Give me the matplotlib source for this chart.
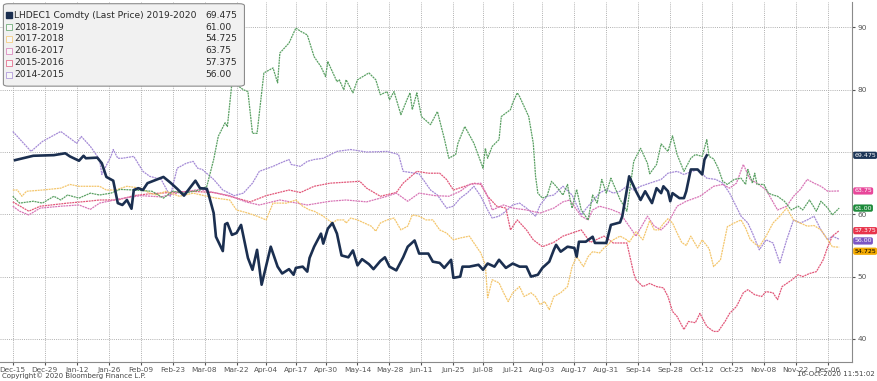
import numpy as np
import pandas as pd
import matplotlib
matplotlib.use("Agg")
import matplotlib.pyplot as plt
from matplotlib.patches import FancyBboxPatch

# days counted from Dec-15 of the first year of each season
main_days = [1, 9, 18, 23, 25, 29, 31, 32, 37, 39, 41, 44, 46, 48, 50, 52, 53, 55, 57, 59,
             66, 69, 72, 75, 80, 82, 85, 86, 88, 89, 92, 93, 94, 96, 98, 100, 103, 105, 107, 109,
             113, 116, 118, 121, 123, 124, 127, 129, 130, 132, 135, 136, 138, 140, 142, 144, 147, 149, 151, 153,
             156, 158, 161, 163, 165, 168, 171, 173, 176, 178, 182, 184, 187, 189, 192, 193, 196, 197, 200, 204,
             206, 208, 211, 213, 216, 219, 222, 225, 227, 230, 232, 235, 237, 238, 240, 243, 246, 247, 248, 251,
             254, 255, 258, 260, 262, 266, 267, 270, 273, 275, 277, 280, 282, 284, 285, 287, 288, 289, 292, 294,
             295, 297, 300, 302, 303, 304]
main_vals = [68.7, 69.4, 69.5, 69.8, 69.3, 68.6, 69.4, 69.0, 69.1, 68.2, 66.0, 65.4, 61.8, 61.5, 62.3, 60.9, 63.9, 64.2, 63.9, 65.0,
             66.0, 65.1, 64.1, 63.0, 65.4, 64.2, 64.1, 62.9, 60.2, 56.4, 54.1, 58.4, 58.6, 56.7, 57.0, 58.3, 53.0, 51.1, 54.3, 48.7,
             54.8, 51.6, 50.5, 51.2, 50.3, 51.4, 51.6, 50.8, 53.0, 54.8, 56.9, 55.3, 57.7, 58.6, 56.9, 53.4, 53.1, 54.2, 51.8, 52.8,
             52.0, 51.2, 52.5, 53.1, 51.6, 51.0, 53.1, 54.8, 55.8, 53.7, 53.7, 52.4, 52.2, 51.4, 52.7, 49.8, 50.0, 51.6, 51.6, 51.9,
             51.1, 52.1, 51.6, 52.7, 51.4, 52.1, 51.6, 51.6, 50.0, 50.3, 51.4, 52.4, 54.3, 55.1, 54.0, 54.8, 54.6, 53.2, 55.6, 55.6,
             56.4, 55.4, 55.4, 55.4, 58.3, 58.7, 59.7, 66.1, 63.7, 62.3, 63.7, 61.8, 64.2, 63.4, 64.5, 63.7, 62.1, 63.4, 62.6, 62.6,
             63.7, 67.2, 67.2, 66.4, 68.8, 69.475]

s1819_days = [0, 3, 9, 13, 18, 21, 24, 29, 34, 38, 43, 47, 53, 61, 66, 70, 75, 82, 85, 88,
              90, 93, 94, 96, 98, 101, 103, 105, 107, 110, 114, 116, 117, 121, 124, 126, 129, 132, 135, 137,
              138, 139, 142, 143, 145, 146, 149, 151, 156, 159, 161, 164, 165, 167, 170, 173, 174, 175, 177, 179,
              183, 186, 189, 191, 194, 195, 198, 202, 206, 207, 208, 210, 213, 214, 218, 219, 221, 222, 224, 226,
              228, 229, 230, 232, 234, 236, 238, 241, 243, 244, 245, 247, 249, 252, 254, 256, 258, 260, 262, 266,
              269, 272, 275, 278, 279, 282, 284, 287, 289, 291, 294, 297, 299, 302, 304, 305, 307, 309, 311, 313,
              316, 319, 321, 322, 324, 325, 326, 329, 331, 333, 335, 338, 341, 344, 346, 349, 352, 354, 357, 359,
              362]
s1819_vals = [62.9, 61.8, 62.1, 61.8, 62.9, 62.3, 63.1, 62.6, 63.4, 63.1, 63.4, 64.0, 63.9, 63.7, 62.6, 63.7, 63.4, 63.9, 64.5, 68.8,
              72.5, 74.7, 74.1, 81.1, 80.8, 80.0, 79.7, 73.0, 73.0, 82.7, 83.5, 81.1, 85.9, 87.5, 89.9, 89.4, 88.8, 85.3, 83.7, 82.1,
              84.5, 83.7, 81.3, 81.6, 80.0, 81.6, 79.5, 81.6, 82.7, 81.6, 79.2, 79.7, 78.4, 79.7, 76.0, 78.7, 79.5, 76.8, 79.5, 75.7,
              74.4, 76.5, 72.2, 69.0, 69.6, 71.4, 74.1, 71.4, 67.4, 70.6, 69.0, 70.9, 72.0, 75.7, 76.8, 77.9, 79.5, 78.9, 77.3, 75.7,
              71.4, 66.1, 63.4, 62.6, 62.9, 65.3, 64.5, 63.1, 64.8, 62.6, 61.0, 64.0, 60.7, 59.1, 63.1, 61.8, 65.6, 63.4, 65.8, 62.4,
              60.5, 68.5, 70.6, 68.2, 66.5, 68.0, 71.3, 70.1, 72.6, 69.6, 66.9, 69.0, 69.6, 69.3, 72.0, 69.3, 68.9, 67.4, 65.3, 64.8,
              65.6, 65.8, 64.8, 67.2, 65.0, 66.6, 64.8, 64.8, 63.4, 63.1, 62.9, 62.1, 60.7, 61.3, 60.7, 62.3, 60.5, 62.1, 61.0, 59.9,
              61.0]

s1718_days = [0, 2, 4, 6, 13, 21, 25, 29, 38, 41, 45, 50, 56, 60, 63, 67, 73, 79, 85, 89,
              95, 98, 103, 107, 111, 114, 120, 124, 127, 130, 132, 136, 140, 142, 145, 146, 148, 151, 154, 157,
              159, 161, 164, 167, 170, 173, 175, 178, 181, 184, 187, 190, 193, 196, 200, 202, 205, 207, 208, 210,
              213, 215, 217, 219, 222, 224, 227, 229, 231, 233, 235, 237, 240, 243, 245, 247, 250, 252, 254, 257,
              259, 263, 266, 269, 270, 273, 276, 279, 281, 283, 285, 287, 289, 291, 293, 295, 297, 300, 302, 305,
              307, 310, 313, 316, 319, 321, 323, 325, 327, 330, 333, 336, 339, 342, 345, 348, 351, 354, 357, 359,
              362]
s1718_vals = [63.9, 63.9, 62.9, 63.7, 63.9, 64.2, 64.8, 64.5, 64.5, 63.9, 63.9, 64.5, 64.2, 63.4, 63.1, 63.7, 62.9, 63.4, 62.9, 62.6,
              62.3, 60.7, 60.2, 59.7, 59.1, 61.8, 61.8, 62.3, 61.3, 60.7, 60.5, 59.7, 58.6, 59.1, 59.1, 58.6, 59.4, 59.1, 58.6, 58.1,
              57.3, 58.6, 59.1, 59.4, 57.5, 58.1, 59.9, 59.7, 59.1, 59.1, 57.5, 57.0, 55.9, 56.2, 56.5, 55.4, 53.8, 51.9, 46.6, 49.5,
              49.0, 47.4, 46.0, 47.4, 48.4, 46.8, 47.4, 46.8, 45.5, 46.0, 44.7, 46.8, 47.4, 48.4, 51.6, 53.2, 51.6, 53.2, 54.0, 53.8,
              54.6, 55.9, 56.5, 55.9, 55.5, 57.2, 55.9, 59.0, 57.5, 57.5, 58.5, 59.3, 58.6, 57.0, 55.5, 55.0, 56.5, 54.6, 55.9, 54.5,
              51.6, 52.7, 58.0, 58.6, 59.1, 57.8, 56.0, 55.3, 54.8, 56.5, 58.6, 59.7, 61.0, 59.1, 58.6, 58.1, 58.2, 57.5, 55.9, 54.8,
              54.725]

s1617_days = [0, 3, 7, 12, 21, 29, 34, 38, 47, 56, 65, 73, 82, 88, 95, 102, 108, 117, 129, 139,
              146, 155, 164, 168, 173, 178, 185, 191, 196, 200, 205, 208, 210, 215, 219, 225, 231, 237, 241, 244,
              249, 252, 254, 257, 262, 266, 270, 273, 278, 281, 284, 287, 291, 295, 301, 307, 311, 314, 317, 320,
              323, 326, 330, 335, 339, 342, 345, 348, 351, 354, 357, 362]
s1617_vals = [61.3, 60.5, 59.9, 61.0, 61.3, 61.5, 60.8, 61.8, 62.5, 63.0, 62.8, 63.5, 64.0, 63.5, 63.0, 62.0, 61.5, 62.3, 61.5, 62.1,
              62.3, 62.0, 62.9, 63.4, 62.1, 63.4, 63.0, 62.9, 63.7, 64.8, 65.0, 62.9, 60.7, 61.5, 61.0, 60.7, 60.2, 61.0, 62.0, 62.3,
              59.7, 59.1, 60.7, 61.3, 60.8, 60.2, 58.1, 56.5, 59.7, 58.1, 57.5, 58.6, 61.3, 62.1, 62.9, 64.5, 64.8, 64.2, 65.0, 68.0,
              65.6, 65.0, 63.9, 60.7, 61.3, 62.9, 64.0, 65.6, 65.0, 64.5, 63.7, 63.75]

s1516_days = [0, 7, 12, 24, 33, 38, 46, 53, 60, 69, 78, 88, 94, 104, 111, 121, 126, 132, 139, 152,
              155, 161, 168, 171, 177, 182, 187, 190, 193, 198, 202, 205, 208, 212, 216, 218, 221, 225, 228, 232,
              237, 241, 245, 249, 253, 259, 263, 269, 272, 273, 276, 279, 282, 285, 287, 289, 291, 294, 296, 299,
              301, 304, 307, 309, 312, 314, 317, 320, 322, 325, 328, 330, 333, 335, 337, 341, 344, 346, 349, 352,
              355, 357, 359, 362]
s1516_vals = [62.0, 60.5, 61.3, 61.8, 62.1, 62.3, 62.3, 63.0, 63.3, 63.5, 63.7, 63.5, 63.0, 62.0, 63.0, 63.9, 63.5, 64.5, 65.0, 65.3,
              64.2, 62.9, 63.5, 65.0, 66.9, 66.6, 66.6, 65.6, 63.9, 64.5, 65.0, 64.8, 62.9, 61.3, 61.0, 57.5, 59.1, 57.5, 55.9, 54.8,
              55.5, 56.5, 57.0, 57.5, 55.5, 56.5, 55.4, 55.4, 50.5, 49.5, 48.4, 48.9, 48.4, 48.2, 46.8, 44.4, 43.6, 41.5, 42.8, 42.6,
              44.1, 42.0, 41.2, 41.2, 42.8, 44.1, 45.2, 47.4, 47.9, 47.1, 46.8, 47.6, 47.4, 46.3, 48.4, 49.4, 50.3, 50.0, 50.5, 50.8,
              52.7, 54.8, 56.5, 57.375]

s1415_days = [0, 2, 8, 13, 21, 24, 28, 30, 34, 38, 39, 43, 44, 46, 48, 53, 57, 60, 65, 69,
              72, 76, 79, 81, 83, 88, 92, 97, 101, 105, 108, 114, 117, 121, 122, 126, 129, 132, 136, 142,
              148, 155, 164, 169, 171, 178, 183, 186, 190, 193, 196, 199, 202, 205, 208, 210, 213, 216, 219, 222,
              225, 229, 231, 234, 237, 241, 245, 249, 252, 254, 257, 260, 263, 266, 269, 272, 275, 279, 284, 287,
              291, 294, 300, 304, 308, 311, 314, 319, 322, 324, 327, 330, 333, 336, 339, 342, 345, 348, 351, 354,
              357, 359, 362]
s1415_vals = [73.3, 72.5, 70.1, 71.7, 73.3, 72.5, 71.4, 72.5, 70.9, 68.8, 66.4, 69.3, 70.4, 69.0, 69.0, 69.3, 66.9, 66.1, 65.6, 62.9,
              67.4, 68.2, 68.5, 67.4, 67.2, 65.6, 63.9, 63.0, 63.4, 65.0, 66.9, 67.7, 68.2, 68.8, 68.0, 67.7, 68.5, 68.8, 69.0, 70.1,
              70.4, 70.0, 70.1, 69.6, 66.9, 66.5, 63.9, 63.1, 61.0, 61.3, 62.6, 63.4, 64.5, 62.9, 60.7, 59.4, 59.7, 60.5, 61.5, 61.8,
              61.0, 59.7, 61.5, 62.9, 63.1, 64.5, 63.1, 59.9, 61.3, 62.1, 63.4, 64.0, 63.4, 63.7, 64.5, 63.9, 64.5, 65.0, 65.6, 66.6,
              66.9, 66.4, 67.2, 65.8, 65.6, 65.0, 63.4, 59.7, 58.6, 57.0, 54.3, 55.9, 55.4, 52.2, 55.9, 59.1, 58.6, 59.1, 59.7, 57.5,
              55.9, 56.5, 56.0]

labels = ["LHDEC1 Comdty (Last Price) 2019-2020", "2018-2019", "2017-2018",
          "2016-2017", "2015-2016", "2014-2015"]
tick_dates = ["2019-12-15", "2019-12-29", "2020-01-12", "2020-01-26", "2020-02-09", "2020-02-23",
              "2020-03-08", "2020-03-22", "2020-04-04", "2020-04-17", "2020-04-30", "2020-05-14",
              "2020-05-28", "2020-06-11", "2020-06-25", "2020-07-08", "2020-07-21", "2020-08-03",
              "2020-08-17", "2020-08-31", "2020-09-14", "2020-09-28", "2020-10-12", "2020-10-25",
              "2020-11-08", "2020-11-22", "2020-12-06"]
y_ticks = [40, 50, 60, 70, 80, 90]
y_ticklabels = ["40", "50", "60", "", "80", "90"]  # 70 sits behind the last-price tag

line_colors = ["#1b2f50", "#5aa063", "#f4c66c", "#d875b6", "#e2587a", "#a48ad6"]
tag_colors = ["#1c3557", "#1d8a3a", "#f2a900", "#e8479a", "#e8334b", "#7b56c4"]

base = pd.Timestamp("2019-12-15")


def to_dates(days):
    return base + pd.to_timedelta(np.array(days), unit="D")


def fmt_val(v):
    s = f"{v:.3f}"
    return s[:-1] if s.endswith("0") else s


series = [(main_days, main_vals), (s1819_days, s1819_vals), (s1718_days, s1718_vals),
          (s1617_days, s1617_vals), (s1516_days, s1516_vals), (s1415_days, s1415_vals)]

fig = plt.figure(figsize=(8.77, 3.81), dpi=100)
ax = fig.add_axes([0.0, 0.05, 0.9712, 0.945])

# thin seasonal lines first, current contract on top
for i in range(len(series) - 1, 0, -1):
    d, v = series[i]
    ax.plot(to_dates(d), v, color=line_colors[i], lw=0.9, ls=(0, (1.6, 0.6)), zorder=3)
d, v = series[0]
ax.plot(to_dates(d), v, color=line_colors[0], lw=1.9, zorder=5)

ax.set_xlim(base - pd.Timedelta(days=5.6), base + pd.Timedelta(days=367.5))
ax.set_ylim(36.3, 94.1)

ticks = pd.to_datetime(tick_dates)
ax.set_xticks(ticks)
ax.set_xticklabels([t.strftime("%b-%d") for t in ticks])
ax.set_yticks(y_ticks)
ax.set_yticklabels(y_ticklabels)
ax.yaxis.tick_right()
ax.tick_params(axis="x", labelsize=5.3, colors="#555555", length=2, pad=1.5)
ax.tick_params(axis="y", labelsize=5.3, colors="#555555", length=2.5, pad=1.5)
ax.grid(True, color="#b0b0b0", ls=(0, (1, 1.2)), lw=0.7)
for side in ["top", "left"]:
    ax.spines[side].set_visible(False)
for side in ["bottom", "right"]:
    ax.spines[side].set_color("#8a8a8a")
    ax.spines[side].set_linewidth(0.8)

# legend box with values column
box = FancyBboxPatch((0.004, 0.766), 0.283, 0.229, boxstyle="round,pad=0,rounding_size=0.006",
                     transform=ax.transAxes, fc="#f1f1f1", ec="#8c8c8c", lw=0.8, zorder=10)
ax.add_patch(box)
row_y = [0.963, 0.93, 0.897, 0.864, 0.831, 0.798]
for i, lab in enumerate(labels):
    if i == 0:
        ax.plot(0.0105, row_y[i], marker="s", ms=4.2, mfc=line_colors[0], mec=line_colors[0],
                transform=ax.transAxes, zorder=11, clip_on=False)
    else:
        ax.plot(0.0105, row_y[i], marker="s", ms=4.2, mfc="#f7f7f7", mec=line_colors[i], mew=0.5,
                transform=ax.transAxes, zorder=11, clip_on=False)
    ax.text(0.0165, row_y[i], lab, transform=ax.transAxes, fontsize=6.6, color="#2a2a2a",
            va="center", ha="left", zorder=11)
    ax.text(0.2415, row_y[i], fmt_val(series[i][1][-1]), transform=ax.transAxes, fontsize=6.6,
            color="#2a2a2a", va="center", ha="left", zorder=11)

# last-value tags on the right, pushed apart where they would overlap
order = sorted(range(len(series)), key=lambda k: -series[k][1][-1])
prev = None
for k in order:
    val = series[k][1][-1]
    y = val if prev is None else min(val, prev - 1.65)
    prev = y
    ax.annotate(fmt_val(val), xy=(1.003, y), xycoords=("axes fraction", "data"),
                fontsize=4.5, color="black" if k == 2 else "white", va="center", ha="left",
                annotation_clip=False, zorder=12,
                bbox=dict(boxstyle="round,pad=0.18,rounding_size=0.3", fc=tag_colors[k], ec="none"))

fig.text(0.002, 0.008, "Copyright\u00a9 2020 Bloomberg Finance L.P.", fontsize=5.0, color="#444444")
fig.text(0.998, 0.012, "16-Oct-2020 11:51:02", fontsize=5.0, color="#444444", ha="right")

fig.savefig("out.png", dpi=100)
